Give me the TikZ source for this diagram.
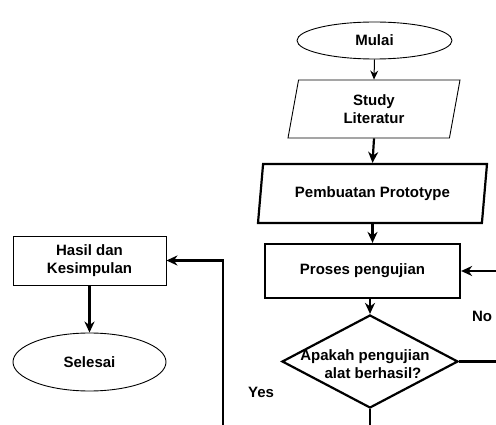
\documentclass[tikz,border=0pt]{standalone}
\usepackage{fontspec}
\setmainfont{Liberation Sans}
\usetikzlibrary{shapes.geometric, arrows.meta}

\begin{document}
\begin{tikzpicture}[x=1pt, y=-1pt,
	every node/.style={font=\fontsize{15}{18}\selectfont\bfseries, align=center, inner sep=0pt},
	thin box/.style={draw, line width=0.9pt},
	thick box/.style={draw, line width=2.2pt},
	terminal/.style={ellipse},
	datas/.style={trapezium, trapezium left angle=70, trapezium right angle=110, trapezium stretches body},
	decision/.style={diamond, aspect=1.9},
	flow/.style={line width=2.2pt, -{Stealth[length=11pt, width=10pt, inset=3.5pt]}},
	thin flow/.style={line width=1pt, -{Stealth[length=9pt, width=8pt, inset=3pt]}}]

	\useasboundingbox (0,0) rectangle (496,425);
	\clip (0,0) rectangle (496,425);

	\node[terminal, thin box, minimum width=155, minimum height=37] (mulai) at (374.5,40.5) {Mulai};
	\node[datas, thin box, minimum width=172, minimum height=58] (study) at (374,109) {Study\\Literatur};
	\node[datas, thick box, minimum width=229, minimum height=59] (pembuatan) at (372.5,193.5) {Pembuatan Prototype};
	\node[rectangle, thick box, minimum width=195, minimum height=54] (proses) at (362.5,271) {Proses pengujian};
	\node[decision, thick box, minimum width=176, minimum height=93] (cek) at (370,361.5) {};
	\node (cektext) at (365,364) {Apakah pengujian\\\hspace{16pt}alat berhasil?};

	\node[rectangle, thin box, minimum width=153, minimum height=49] (hasil) at (89.5,260.5) {Hasil dan\\Kesimpulan};
	\node[terminal, thin box, minimum width=153, minimum height=58] (selesai) at (89.5,362) {Selesai};

	\node (no) at (482,316) {No};
	\node (yes) at (261,392) {Yes};

	\coordinate (noturn) at (505,361.5);
	\coordinate (yesturn) at (223,440);

	\draw[thin flow] (mulai.south) -- (study.north);
	\draw[flow] (study.south) -- (pembuatan.north);
	\draw[flow] (pembuatan.south) -- (pembuatan.south |- proses.north);
	\draw[flow] (cek.north |- proses.south) -- (cek.north);
	\draw[flow] (hasil.south) -- (selesai.north);

	\draw[flow] (cek.east) -| (noturn) |- (proses.east);
	\draw[flow] (cek.south) |- (yesturn) |- (hasil.east);

\end{tikzpicture}
\end{document}
